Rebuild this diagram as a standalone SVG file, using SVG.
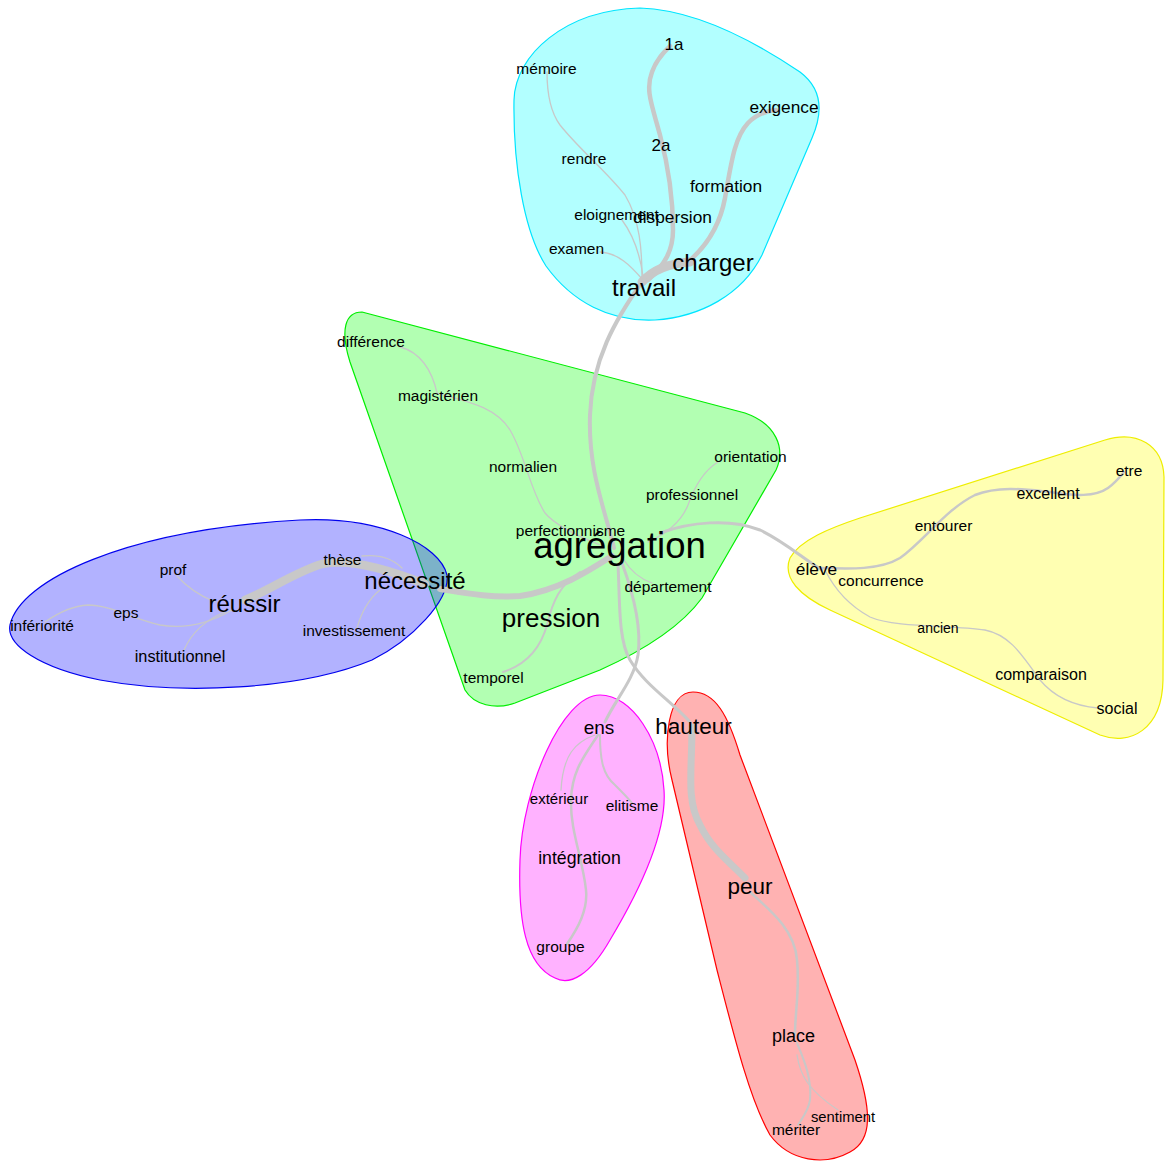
<svg xmlns="http://www.w3.org/2000/svg" width="1166" height="1162" viewBox="0 0 1166 1162">
<style>
.cl{fill-opacity:0.3;stroke-width:1.2}
.e{fill:none;stroke:#c8c8c8;stroke-linecap:round}
.t{font-family:"Liberation Sans",Arial,sans-serif;fill:#000;text-anchor:middle}
.s{font-size:15.5px}
.m{font-size:17.3px}
.l{font-size:24px}
</style>
<rect width="1166" height="1162" fill="#fff"/>
<g id="clusters">
<path id="cl-cyan" class="cl" fill="#00ffff" stroke="#00e5ff" d="M 640,8 C 700,10 760,45 800,72 C 824,90 822,115 812,138 L 762,255 C 742,295 700,317 655,320 C 610,322 572,302 546,266 C 524,232 513,165 514,100 C 515,55 565,10 640,8 Z"/>
<path id="cl-green" class="cl" fill="#00ff00" stroke="#00ee00" d="M 362,312 L 745,413 C 776,424 786,448 776,470 L 702,598 C 680,628 640,652 600,670 L 515,703 C 495,710 474,705 465,690 L 350,362 C 340,330 345,312 362,312 Z"/>
<path id="cl-blue" class="cl" fill="#0000ff" stroke="#0000ee" d="M 10,625 C 20,580 125,530 300,520 C 380,516 440,545 447,575 C 450,600 412,640 372,660 C 300,690 180,695 100,680 C 40,668 6,645 10,625 Z"/>
<path id="cl-yellow" class="cl" fill="#ffff00" stroke="#eeee00" d="M 790,558 C 800,540 830,528 860,518 L 1105,440 C 1137,430 1163,445 1164,477 L 1163,680 C 1162,730 1130,746 1100,735 L 830,610 C 800,596 782,578 790,558 Z"/>
<path id="cl-magenta" class="cl" fill="#ff00ff" stroke="#ff00ff" d="M 600,695 C 632,695 661,740 664,790 C 667,832 640,890 610,940 C 590,975 570,986 555,978 C 525,965 518,920 520,860 C 522,790 562,695 600,695 Z"/>
<path id="cl-red" class="cl" fill="#ff0000" stroke="#ff0000" d="M 693,692 C 715,692 728,715 740,755 L 855,1060 C 872,1110 873,1140 850,1152 C 825,1166 790,1162 770,1135 C 750,1100 735,1040 717,970 L 672,780 C 662,740 668,692 693,692 Z"/>
</g>
<g id="connectors">
<path class="e" stroke-width="4" d="M 614,548 C 605,510 588,470 590,415 C 592,360 615,320 642,282"/>
<path class="e" stroke-width="9" d="M 642,282 Q 658,264 690,262"/>
<path class="e" stroke-width="4.5" d="M 688,262 C 708,245 720,225 725,198 C 731,165 734,138 748,123 C 757,114 766,111 776,110"/>
<path class="e" stroke-width="4.5" d="M 648,280 C 665,265 673,250 673,230 C 673,200 668,165 660,135 C 652,105 645,90 652,72 C 656,60 664,52 670,46"/>
<path class="e" stroke-width="1.3" d="M 642,278 C 642,250 640,220 625,195 C 605,170 580,150 560,125 C 549,110 547,90 547,72"/>
<path class="e" stroke-width="1.3" d="M 643,276 C 640,255 634,236 622,220"/>
<path class="e" stroke-width="1.3" d="M 643,280 C 630,265 618,253 600,252"/>
<path class="e" stroke-width="6" d="M 612,556 C 590,570 560,590 520,596 C 490,598 465,593 440,589"/>
<path class="e" stroke-width="8.5" d="M 245,600 C 270,590 295,572 322,564 C 350,558 390,570 425,584"/>
<path class="e" stroke-width="1.3" d="M 362,556 C 380,554 392,558 402,568"/>
<path class="e" stroke-width="1.3" d="M 380,590 C 370,598 362,610 357,628"/>
<path class="e" stroke-width="1.3" d="M 177,576 C 185,585 198,595 215,602"/>
<path class="e" stroke-width="1.3" d="M 232,610 C 215,620 190,630 160,625 C 130,618 110,605 88,605 C 70,606 55,615 45,622"/>
<path class="e" stroke-width="1.3" d="M 225,612 C 205,620 192,632 184,650"/>
<path class="e" stroke-width="1.3" d="M 400,347 C 420,352 432,370 437,393 C 460,400 495,405 510,430 C 525,455 530,490 545,513 C 555,525 575,535 600,545"/>
<path class="e" stroke-width="1.3" d="M 718,462 C 705,470 695,485 688,505 C 682,520 670,532 648,542"/>
<path class="e" stroke-width="1.3" d="M 624,560 C 630,570 638,578 652,583"/>
<path class="e" stroke-width="2" d="M 503,672 C 525,665 540,650 547,625 C 553,600 560,585 580,572"/>
<path class="e" stroke-width="3" d="M 622,563 C 632,590 642,625 638,655 C 634,680 615,700 605,722"/>
<path class="e" stroke-width="3" d="M 618,565 C 620,600 618,640 630,660 C 645,685 670,700 690,722"/>
<path class="e" stroke-width="1.3" d="M 595,735 C 575,742 563,755 561,790"/>
<path class="e" stroke-width="2.5" d="M 598,735 C 585,755 572,770 571,800 C 570,830 583,860 586,890 C 588,910 578,928 567,944"/>
<path class="e" stroke-width="2" d="M 600,735 C 600,760 603,775 615,785 C 622,792 628,798 632,803"/>
<path class="e" stroke-width="7" d="M 692,727 C 692,770 686,800 700,825 C 712,850 730,862 745,878"/>
<path class="e" stroke-width="2.5" d="M 750,892 C 770,910 795,930 797,960 C 800,990 795,1010 795,1035"/>
<path class="e" stroke-width="2" d="M 797,1043 C 805,1062 812,1080 810,1100 C 808,1112 802,1118 798,1125"/>
<path class="e" stroke-width="1.3" d="M 797,1055 C 800,1075 808,1090 838,1110"/>
<path class="e" stroke-width="3" d="M 660,533 C 690,522 730,518 760,530 C 785,542 805,560 822,570"/>
<path class="e" stroke-width="2.5" d="M 822,568 C 850,569 880,570 900,558 C 925,540 945,510 975,495 C 1000,485 1030,490 1050,492 C 1075,496 1095,497 1108,488 C 1115,483 1120,477 1124,472"/>
<path class="e" stroke-width="1.3" d="M 825,570 C 835,590 848,605 870,617 C 895,628 950,625 985,630 C 1010,635 1022,655 1040,680 C 1055,698 1075,706 1098,708"/>
</g>
<g id="n-1a"><text class="t" x="674" y="50" font-size="17">1a</text></g>
<g id="n-memoire"><text class="t s" x="546.5" y="74">mémoire</text></g>
<g id="n-exigence"><text class="t m" x="784" y="112.5">exigence</text></g>
<g id="n-2a"><text class="t" x="661" y="151" font-size="17">2a</text></g>
<g id="n-rendre"><text class="t s" x="584" y="164">rendre</text></g>
<g id="n-formation"><text class="t m" x="726" y="191.5">formation</text></g>
<g id="n-eloignement"><text class="t s" x="616.5" y="220">eloignement</text></g>
<g id="n-dispersion"><text class="t m" x="672.5" y="222.5">dispersion</text></g>
<g id="n-examen"><text class="t s" x="576.5" y="254">examen</text></g>
<g id="n-charger"><text class="t l" x="713" y="271">charger</text></g>
<g id="n-travail"><text class="t l" x="644" y="296">travail</text></g>
<g id="n-difference"><text class="t s" x="371" y="347">différence</text></g>
<g id="n-magisterien"><text class="t s" x="438" y="400.5">magistérien</text></g>
<g id="n-normalien"><text class="t s" x="523" y="471.5">normalien</text></g>
<g id="n-orientation"><text class="t s" x="750.5" y="462">orientation</text></g>
<g id="n-professionnel"><text class="t s" x="692" y="500">professionnel</text></g>
<g id="n-perfectionnisme"><text class="t s" x="570.5" y="536">perfectionnisme</text></g>
<g id="n-agregation"><text class="t" x="619.5" y="558" font-size="36.5px">agrégation</text></g>
<g id="n-departement"><text class="t s" x="668" y="592">département</text></g>
<g id="n-pression"><text class="t" x="551" y="627" font-size="26px">pression</text></g>
<g id="n-temporel"><text class="t s" x="493.5" y="683">temporel</text></g>
<g id="n-these"><text class="t s" x="342.5" y="565">thèse</text></g>
<g id="n-necessite"><text class="t l" x="415" y="588.5">nécessité</text></g>
<g id="n-prof"><text class="t s" x="173" y="575">prof</text></g>
<g id="n-reussir"><text class="t l" x="244.5" y="612">réussir</text></g>
<g id="n-eps"><text class="t s" x="126" y="618">eps</text></g>
<g id="n-inferiorite"><text class="t s" x="42" y="630.5">infériorité</text></g>
<g id="n-investissement"><text class="t s" x="354" y="636">investissement</text></g>
<g id="n-institutionnel"><text class="t" x="180" y="662" font-size="16.3px">institutionnel</text></g>
<g id="n-etre"><text class="t s" x="1129" y="476">etre</text></g>
<g id="n-excellent"><text class="t" x="1048" y="498.5" font-size="16px">excellent</text></g>
<g id="n-entourer"><text class="t s" x="943.5" y="531">entourer</text></g>
<g id="n-eleve"><text class="t" x="816.5" y="574.5" font-size="17.3px">élève</text></g>
<g id="n-concurrence"><text class="t s" x="881" y="586">concurrence</text></g>
<g id="n-ancien"><text class="t" x="938" y="633" font-size="14px">ancien</text></g>
<g id="n-comparaison"><text class="t" x="1041" y="679.5" font-size="16px">comparaison</text></g>
<g id="n-social"><text class="t" x="1117" y="713.5" font-size="16px">social</text></g>
<g id="n-ens"><text class="t" x="599" y="733.5" font-size="19px">ens</text></g>
<g id="n-exterieur"><text class="t" x="559" y="803.5" font-size="15px">extérieur</text></g>
<g id="n-elitisme"><text class="t s" x="632" y="811">elitisme</text></g>
<g id="n-integration"><text class="t" x="579.5" y="863.5" font-size="17.7px">intégration</text></g>
<g id="n-groupe"><text class="t s" x="560.5" y="952">groupe</text></g>
<g id="n-hauteur"><text class="t" x="693.5" y="733.5" font-size="22.5px">hauteur</text></g>
<g id="n-peur"><text class="t" x="750" y="893.5" font-size="22.5px">peur</text></g>
<g id="n-place"><text class="t" x="793.5" y="1042" font-size="18px">place</text></g>
<g id="n-sentiment"><text class="t" x="843" y="1122" font-size="14.8px">sentiment</text></g>
<g id="n-meriter"><text class="t s" x="796" y="1134.5">mériter</text></g>
</svg>
